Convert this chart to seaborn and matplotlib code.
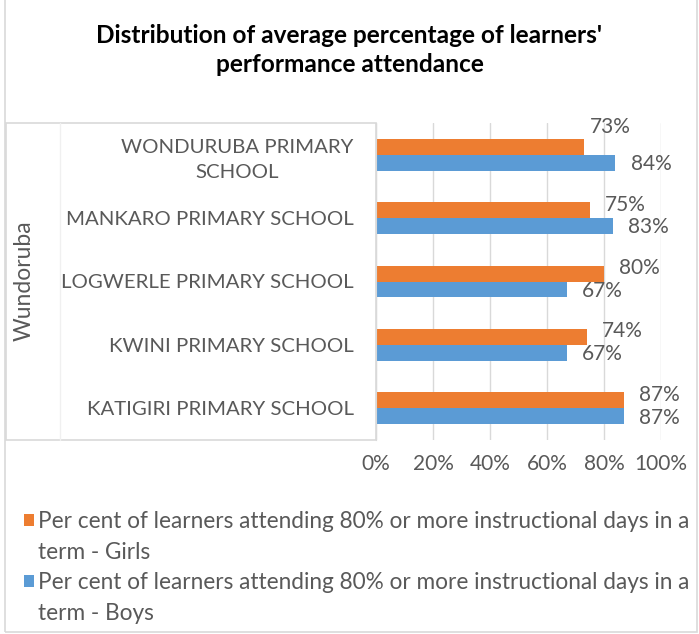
import pandas as pd
import matplotlib.pyplot as plt
import seaborn as sns
from matplotlib.patches import Rectangle, Patch
from matplotlib.lines import Line2D

# ----------------------
# data
# ----------------------
schools = ["WONDURUBA PRIMARY\nSCHOOL", "MANKARO PRIMARY SCHOOL", "LOGWERLE PRIMARY SCHOOL",
           "KWINI PRIMARY SCHOOL", "KATIGIRI PRIMARY SCHOOL"]
girls = [73, 75, 80, 74, 87]
boys = [84, 83, 67, 67, 87]
series = ["Girls", "Boys"]
legend_line1 = "Per cent of learners attending 80% or more instructional days in a"
legend_line2 = ["term - Girls", "term - Boys"]
group_label = "Wundoruba"
x_ticks = [0, 20, 40, 60, 80, 100]

df = pd.DataFrame({
    "school": schools * 2,
    "value": girls + boys,
    "series": [series[0]] * len(schools) + [series[1]] * len(schools),
})

ORANGE = "#ED7D31"
BLUE = "#5B9BD5"
GREY_TXT = "#595959"
GRID = "#D9D9D9"

sns.set_style("white")
plt.rcParams["font.family"] = ["Lato", "DejaVu Sans"]

W, H = 699, 634
fig = plt.figure(figsize=(W / 100, H / 100), dpi=100)

def fx(px):
    return px / W

def fy(py):
    return 1 - py / H

# plot area
ax = fig.add_axes([fx(376), fy(440), fx(661) - fx(376), fy(123) - fy(440)])
sns.barplot(data=df, x="value", y="school", hue="series", hue_order=series, order=schools,
            orient="h", palette=[ORANGE, BLUE], saturation=1, width=0.5, linewidth=0, ax=ax)

handles, _ = ax.get_legend_handles_labels()
ax.get_legend().remove()

ax.set_xlim(0, 100)
ax.set_xticks(x_ticks)
ax.set_xticklabels([f"{v}%" for v in x_ticks])
ax.set_xlabel("")
ax.set_ylabel("")
ax.xaxis.grid(True, color=GRID, linewidth=1)
ax.set_axisbelow(True)
for s in ["top", "right", "bottom"]:
    ax.spines[s].set_visible(False)
ax.spines["left"].set_color(GRID)
ax.tick_params(axis="x", length=0, pad=10, labelsize=15, labelcolor=GREY_TXT)
ax.tick_params(axis="y", length=0, pad=16, labelsize=14.7, labelcolor=GREY_TXT)
for t in ax.get_yticklabels():
    t.set_multialignment("center")
    t.set_linespacing(1.55)

# data labels
for i, cont in enumerate(ax.containers):
    labs = ax.bar_label(cont, fmt="{:.0f}%", padding=11, fontsize=15, color=GREY_TXT)
    for j, lab in enumerate(labs):
        if i == 0:
            lab.xyann = (4, 14) if j == 0 else (11, 4)
        else:
            lab.xyann = (11, -1)

# box around category labels
fig.add_artist(Rectangle((fx(6), fy(440)), fx(376) - fx(6), fy(123) - fy(440),
                         transform=fig.transFigure, fill=False, edgecolor=GRID, linewidth=1.2))
fig.add_artist(Line2D([fx(60), fx(60)], [fy(440), fy(123)], transform=fig.transFigure,
                      color="#F0F0F0", linewidth=1))
fig.text(fx(24), fy(281), group_label, rotation=90, ha="center", va="center",
         fontsize=16.5, color=GREY_TXT)

# chart border
fig.add_artist(Rectangle((fx(5), fy(632)), fx(697) - fx(5), fy(-5) - fy(632),
                         transform=fig.transFigure, fill=False, edgecolor=GRID, linewidth=1.2))

# title
fig.text(0.5, fy(50), "Distribution of average percentage of learners'\nperformance attendance",
         ha="center", va="center", fontsize=17.6, fontweight="bold", color="black",
         linespacing=1.3)

# legend: wrapped labels, marker beside first line only
blank = Patch(alpha=0)
leg_handles = [handles[0], blank, handles[1], blank]
leg_labels = [legend_line1, legend_line2[0], legend_line1, legend_line2[1]]
leg = fig.legend(leg_handles, leg_labels, loc="upper left", bbox_to_anchor=(fx(24), fy(511)),
                 frameon=False, handlelength=0.44, handleheight=0.44, handletextpad=0.18,
                 labelspacing=0.43, fontsize=16.3, labelcolor=GREY_TXT, borderaxespad=0,
                 borderpad=0)
for h in leg.legend_handles:
    h.set_linewidth(0)

fig.savefig("out.png", dpi=100)
